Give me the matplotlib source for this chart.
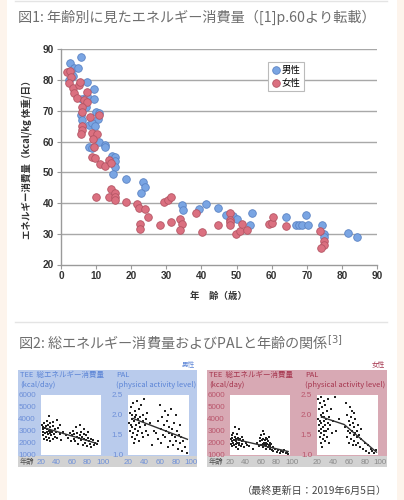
import numpy as np
import matplotlib
matplotlib.use("Agg")
import matplotlib.pyplot as plt
from matplotlib.patches import Rectangle
from matplotlib.lines import Line2D

plt.rcParams['font.family'] = ['Noto Sans CJK JP', 'DejaVu Sans']

W, H = 404, 500

# ---- figure 1 data: (age, kcal/kg/day) ----
male_pts = [(2.6, 85.5), (5.6, 87.4), (3.7, 83.8), (4.8, 83.8), (2.3, 80.0), (3.5, 81.4),
            (7.5, 79.5), (9.5, 77.2), (9.5, 73.8), (5.9, 73.7), (7.1, 71.3), (7.5, 74.9),
            (10.1, 69.7), (10.9, 69.4), (10.4, 67.2), (5.8, 68.6), (5.9, 67.0), (8.0, 65.3),
            (8.8, 65.9), (9.6, 65.1), (8.0, 58.3), (8.7, 57.8), (10.9, 59.9), (12.6, 58.8),
            (12.5, 58.1), (14.4, 55.2), (15.5, 55.0), (15.3, 53.7), (15.4, 51.6), (14.9, 49.4),
            (18.4, 47.9), (23.4, 46.7), (23.8, 45.3), (22.8, 43.4), (34.6, 39.5), (34.7, 37.8),
            (39.3, 37.9), (41.4, 39.8), (44.6, 38.4), (46.9, 36.2), (48.9, 35.7), (50.1, 34.7),
            (54.4, 36.6), (53.8, 32.8), (64.2, 35.5), (66.8, 33.0), (67.7, 33.0), (68.6, 33.0),
            (70.3, 33.0), (69.8, 36.0), (74.2, 32.8), (74.9, 30.0), (74.9, 29.0), (81.7, 30.3),
            (84.3, 28.8)]
female_pts = [(1.6, 82.7), (2.6, 82.9), (2.8, 81.1), (2.4, 78.9), (3.5, 77.3), (5.2, 78.4),
              (5.4, 79.5), (3.7, 75.9), (4.6, 74.0), (6.5, 73.5), (7.5, 72.9), (7.5, 76.2),
              (5.9, 71.3), (6.1, 69.7), (6.1, 65.0), (6.1, 63.7), (5.6, 62.4), (8.4, 68.0),
              (10.8, 68.6), (8.7, 62.8), (10.3, 62.3), (9.0, 60.7), (9.5, 58.1), (8.7, 55.0),
              (9.6, 54.5), (11.1, 52.6), (12.5, 52.1), (13.7, 53.9), (14.2, 52.9), (10.0, 42.1),
              (14.2, 44.5), (13.7, 41.8), (15.3, 43.3), (15.3, 41.8), (15.5, 40.9), (18.4, 40.4),
              (21.7, 39.6), (22.2, 38.3), (23.8, 38.2), (24.7, 35.6), (22.6, 33.3), (22.4, 31.7),
              (28.3, 32.8), (29.3, 40.4), (30.5, 40.9), (31.3, 41.8), (31.2, 33.8), (34.0, 34.9),
              (34.6, 33.1), (34.0, 31.1), (38.5, 36.6), (40.1, 30.7), (44.6, 32.8), (48.1, 36.6),
              (48.1, 34.6), (48.1, 33.7), (48.1, 32.8), (49.7, 30.0), (50.9, 30.8), (51.6, 33.3),
              (52.9, 31.1), (59.1, 33.1), (60.0, 33.6), (60.3, 35.5), (64.2, 32.4), (73.8, 30.8),
              (74.8, 27.6), (74.8, 26.5), (74.0, 25.5)]
fig1_xticks = list(range(0, 100, 10))
fig1_yticks = list(range(20, 100, 10))

# ---- figure 2 data: (age, TEE kcal/day) and (age, PAL) ----
male_tee = [(21, 3500), (22, 2900), (22, 3300), (23, 2600), (23, 3100), (24, 3600), (24, 2300),
            (25, 2800), (25, 3200), (26, 3400), (26, 2500), (27, 2900), (27, 3800), (28, 2200),
            (28, 3100), (29, 2700), (29, 3500), (30, 2400), (30, 3000), (30, 4200), (31, 2800),
            (31, 3300), (32, 2100), (32, 3600), (33, 2600), (33, 3000), (34, 2900), (35, 3400),
            (35, 2300), (36, 3700), (37, 2700), (38, 3100), (38, 2500), (39, 2900), (40, 3900),
            (41, 2400), (42, 3200), (44, 2700), (45, 3500), (46, 2200), (48, 2900), (52, 2600),
            (55, 2400), (57, 2800), (58, 2100), (60, 2600), (61, 3000), (62, 2300), (63, 2700),
            (64, 2100), (65, 3300), (66, 2500), (67, 2800), (68, 1900), (69, 2400), (70, 3500),
            (70, 2600), (71, 2200), (72, 2900), (73, 2500), (74, 1800), (75, 2300), (75, 2700),
            (76, 3100), (77, 2000), (78, 2600), (78, 2200), (79, 1700), (80, 2400), (81, 2900),
            (82, 2100), (83, 1900), (84, 2300), (85, 1600), (87, 2200), (88, 1800), (90, 2000),
            (92, 1900), (94, 2100)]
male_pal = [(21, 1.8), (22, 2.05), (22, 1.6), (23, 1.75), (23, 2.2), (24, 1.45), (24, 1.9),
            (25, 2.0), (25, 1.7), (26, 1.55), (26, 2.3), (27, 1.85), (27, 1.3), (28, 1.95),
            (28, 2.1), (29, 1.65), (29, 1.4), (30, 2.0), (30, 1.75), (31, 2.35), (31, 1.5),
            (32, 1.9), (32, 1.6), (33, 2.15), (33, 1.8), (34, 1.35), (35, 1.95), (35, 1.7),
            (36, 2.25), (37, 1.55), (38, 1.85), (38, 2.0), (39, 1.45), (40, 2.4), (41, 1.75),
            (42, 1.9), (43, 1.6), (44, 2.05), (45, 1.5), (47, 1.8), (50, 1.25), (52, 1.6),
            (55, 1.55), (57, 1.85), (58, 1.4), (60, 2.25), (61, 1.65), (62, 1.3), (63, 1.95),
            (64, 1.5), (65, 1.75), (66, 2.1), (67, 1.45), (68, 1.6), (69, 1.85), (70, 1.2),
            (70, 2.0), (71, 1.55), (72, 1.7), (73, 1.35), (74, 2.15), (75, 1.5), (76, 1.65),
            (77, 1.25), (78, 1.8), (79, 1.45), (80, 2.0), (81, 1.35), (82, 1.6), (83, 1.15),
            (84, 1.5), (85, 1.75), (86, 1.3), (87, 1.45), (88, 1.1), (90, 1.35), (92, 1.2),
            (94, 1.05)]
female_tee = [(21, 2300), (21, 1900), (22, 2600), (22, 2100), (23, 1700), (23, 2400), (24, 2000),
              (24, 2800), (25, 2200), (25, 1800), (26, 2500), (26, 3300), (27, 1600), (27, 2100),
              (28, 2300), (28, 1900), (29, 2700), (29, 2000), (30, 1500), (30, 2400), (31, 2200),
              (31, 1800), (32, 3100), (32, 2000), (33, 2300), (34, 1700), (35, 2500), (35, 2100),
              (36, 1900), (37, 2200), (38, 1600), (40, 2000), (42, 1800), (45, 1700), (50, 1500),
              (55, 2000), (57, 1700), (58, 2400), (59, 2100), (60, 1800), (60, 2600), (61, 2200),
              (62, 1900), (62, 3000), (63, 2300), (63, 1600), (64, 2000), (64, 2700), (65, 1800),
              (65, 2200), (66, 2400), (66, 1500), (67, 2000), (67, 1700), (68, 2300), (68, 1900),
              (69, 1600), (69, 2100), (70, 1800), (70, 2500), (71, 1500), (71, 2000), (72, 1700),
              (73, 1900), (74, 1400), (75, 1600), (76, 1300), (78, 1500), (80, 1200), (82, 1400),
              (84, 1100), (86, 1300), (88, 1200), (90, 1350), (92, 1100), (94, 1250), (95, 1050)]
female_pal = [(21, 2.4), (21, 1.9), (22, 1.6), (22, 2.15), (22, 1.75), (23, 2.3), (23, 1.45),
              (23, 1.85), (24, 2.0), (24, 1.3), (24, 1.65), (25, 2.45), (25, 1.8), (25, 1.55),
              (26, 1.95), (26, 1.2), (26, 2.2), (27, 1.7), (27, 1.4), (27, 2.05), (28, 1.85),
              (28, 1.6), (28, 2.35), (29, 1.5), (29, 1.95), (30, 1.75), (30, 2.25), (30, 1.35),
              (31, 1.9), (31, 1.6), (32, 2.1), (32, 1.45), (33, 1.8), (33, 2.4), (34, 1.65),
              (35, 1.95), (35, 1.3), (36, 1.75), (37, 2.15), (38, 1.55), (40, 1.85), (42, 2.45),
              (44, 1.6), (48, 1.9), (55, 1.7), (56, 2.3), (57, 1.45), (58, 2.0), (59, 1.6),
              (60, 1.85), (60, 1.3), (61, 2.2), (62, 1.55), (62, 1.75), (63, 1.4), (63, 1.95),
              (64, 2.1), (64, 1.6), (65, 1.25), (65, 1.8), (66, 1.5), (66, 2.05), (67, 1.7),
              (67, 1.35), (68, 1.55), (68, 1.9), (69, 1.25), (70, 1.6), (70, 1.45), (71, 1.75),
              (72, 1.3), (73, 1.5), (74, 1.2), (75, 1.4), (76, 1.65), (78, 1.15), (80, 1.3),
              (82, 1.1), (84, 1.25), (86, 1.05), (88, 1.15), (90, 1.1), (92, 1.05), (94, 1.12)]
# fitted lines
male_tee_fit = [(26, 3190), (92, 1920)]
male_pal_fit = [(26, 1.9), (95, 1.38)]
female_tee_fit = [(28, 2250), (95, 1250)]
female_pal_fit = [(25, 1.94), (54, 1.75), (95, 1.06)]
tee_ticks = [1000, 2000, 3000, 4000, 5000, 6000]
pal_ticks = [1.0, 1.5, 2.0, 2.5]
age_ticks = [20, 40, 60, 80, 100]


def fx(x):
    return x / W


def fy(y):
    return 1 - y / H


def px_axes(x0, y0, x1, y1, **kw):
    # axes from pixel box, y measured from the top
    return fig.add_axes([fx(x0), fy(y1), (x1 - x0) / W, (y1 - y0) / H], **kw)


def px_rect(x0, y0, x1, y1, color, z=0):
    fig.add_artist(Rectangle((fx(x0), fy(y1)), (x1 - x0) / W, (y1 - y0) / H,
                             transform=fig.transFigure, facecolor=color,
                             edgecolor='none', zorder=z))


def px_text(x, y, s, **kw):
    fig.text(fx(x), fy(y), s, **kw)


fig = plt.figure(figsize=(W / 100, H / 100), dpi=100)
fig.patch.set_facecolor('#fdf4ec')
px_rect(7, 0, 397, H, 'white', z=-1)

# separators
for yy in (1, 322):
    fig.add_artist(Line2D([fx(15), fx(387)], [fy(yy), fy(yy)], transform=fig.transFigure,
                          color='#e4e4e4', lw=1))

title_col = '#6e6e6e'
px_text(18, 17, '図1: 年齢別に見たエネルギー消費量（[1]p.60より転載）', fontsize=10.2,
        color=title_col, va='center', ha='left')

# ---------------- figure 1 ----------------
ax = px_axes(61, 49.3, 377, 264.5)
ax.set_xlim(0, 90)
ax.set_ylim(20, 90)
for v in fig1_yticks[1:]:
    ax.axhline(v, color='#a8a8a8', lw=1.0, zorder=0)
for s in ('top', 'right'):
    ax.spines[s].set_visible(False)
for s in ('left', 'bottom'):
    ax.spines[s].set_color('#9a9a9a')
    ax.spines[s].set_linewidth(1.0)
ax.set_xticks(fig1_xticks)
ax.set_yticks(fig1_yticks)
ax.tick_params(length=3, width=0.8, color='#9a9a9a', labelsize=7.3, labelcolor='#333333',
               pad=2)
for lab in ax.get_xticklabels() + ax.get_yticklabels():
    lab.set_fontfamily(['Liberation Sans', 'DejaVu Sans'])
    lab.set_fontweight('bold')

m = np.array(male_pts)
f = np.array(female_pts)
ax.scatter(m[:, 0], m[:, 1], s=30, facecolor='#7aa5e3', edgecolor='#5b83c4', lw=0.6,
           zorder=3, label='男性')
ax.scatter(f[:, 0], f[:, 1], s=30, facecolor='#db7080', edgecolor='#b45564', lw=0.6,
           zorder=4, label='女性')
leg = ax.legend(loc='upper left', bbox_to_anchor=(0.655, 0.94), fontsize=6.8,
                handletextpad=0.0, borderpad=0.35, labelspacing=0.45, handlelength=1.1,
                fancybox=False, edgecolor='#bbbbbb', framealpha=1, borderaxespad=0)
leg.get_frame().set_linewidth(0.8)

ax.set_ylabel('エネルギー消費量（kcal/kg 体重/日）', fontsize=6.8, color='#333333',
              fontweight='bold', labelpad=8)
ax.set_xlabel('年　齢（歳）', fontsize=6.8, color='#333333', fontweight='bold', labelpad=7)

# ---------------- figure 2 ----------------
px_text(18, 343, '図2: 総エネルギー消費量およびPALと年齢の関係$^{[3]}$', fontsize=10.2,
        color=title_col, va='center', ha='left')

panels = [
    dict(x0=18, x1=197, bg='#b9cbec', txt='#5b84d6', tick='#6d8fd8', age='#6d8fd8',
         name='男性', tee=male_tee, pal=male_pal, tfit=male_tee_fit, pfit=male_pal_fit),
    dict(x0=207, x1=387, bg='#d8a9b4', txt='#a5344d', tick='#b9566c', age='#8a8a8a',
         name='女性', tee=female_tee, pal=female_pal, tfit=female_tee_fit, pfit=female_pal_fit),
]
for p in panels:
    x0 = p['x0']
    px_rect(x0, 370, p['x1'], 456, p['bg'])
    px_rect(x0, 456, p['x1'], 467, '#d2d2d2')
    px_text(p['x1'] - 2, 365.5, p['name'], fontsize=4.8, color=p['txt'], ha='right',
            va='center')
    px_text(x0 + 2, 375, 'TEE  総エネルギー消費量', fontsize=5.4, color=p['txt'],
            va='center')
    px_text(x0 + 2, 385, '(kcal/day)', fontsize=5.4, color=p['txt'], va='center')
    px_text(x0 + 98, 375, 'PAL', fontsize=5.4, color=p['txt'], va='center')
    px_text(x0 + 98, 385, '(physical activity level)', fontsize=5.4, color=p['txt'],
            va='center')
    px_text(x0 + 2, 462, '年齢', fontsize=5.2, color='#555555', va='center')

    specs = [(x0 + 22.7, x0 + 82.7, p['tee'], p['tfit'], (1000, 6000), tee_ticks, '%d'),
             (x0 + 110, x0 + 171, p['pal'], p['pfit'], (1.0, 2.5), pal_ticks, '%.1f')]
    for (a0, a1, pts, fit, ylim, ticks, fmt) in specs:
        sub = px_axes(a0, 394.5, a1, 454.5)
        sub.set_facecolor('white')
        for s in sub.spines.values():
            s.set_visible(False)
        sub.set_xlim(19.5, 97)
        sub.set_ylim(*ylim)
        sub.set_xticks([])
        sub.set_yticks(ticks)
        sub.set_yticklabels([fmt % t for t in ticks])
        sub.tick_params(axis='y', length=0, pad=3.5, labelsize=5.8, labelcolor=p['tick'])
        for lab in sub.get_yticklabels():
            lab.set_fontfamily(['Liberation Sans', 'DejaVu Sans'])
        d = np.array(pts)
        sub.scatter(d[:, 0], d[:, 1], s=2.6, marker='s', color='#222222', lw=0, zorder=3)
        fl = np.array(fit)
        sub.plot(fl[:, 0], fl[:, 1], color='#333333', lw=1.0, zorder=4)
        for t in age_ticks:
            sub.text(t, -0.13, str(t), transform=sub.get_xaxis_transform(), ha='center',
                     va='center', fontsize=5.8, color=p['age'], clip_on=False,
                     family=['Liberation Sans', 'DejaVu Sans'])

px_text(387, 491, '（最終更新日：2019年6月5日）', fontsize=7.3, color='#444444',
        ha='right', va='center')

fig.savefig('out.png', dpi=100, facecolor=fig.get_facecolor())
